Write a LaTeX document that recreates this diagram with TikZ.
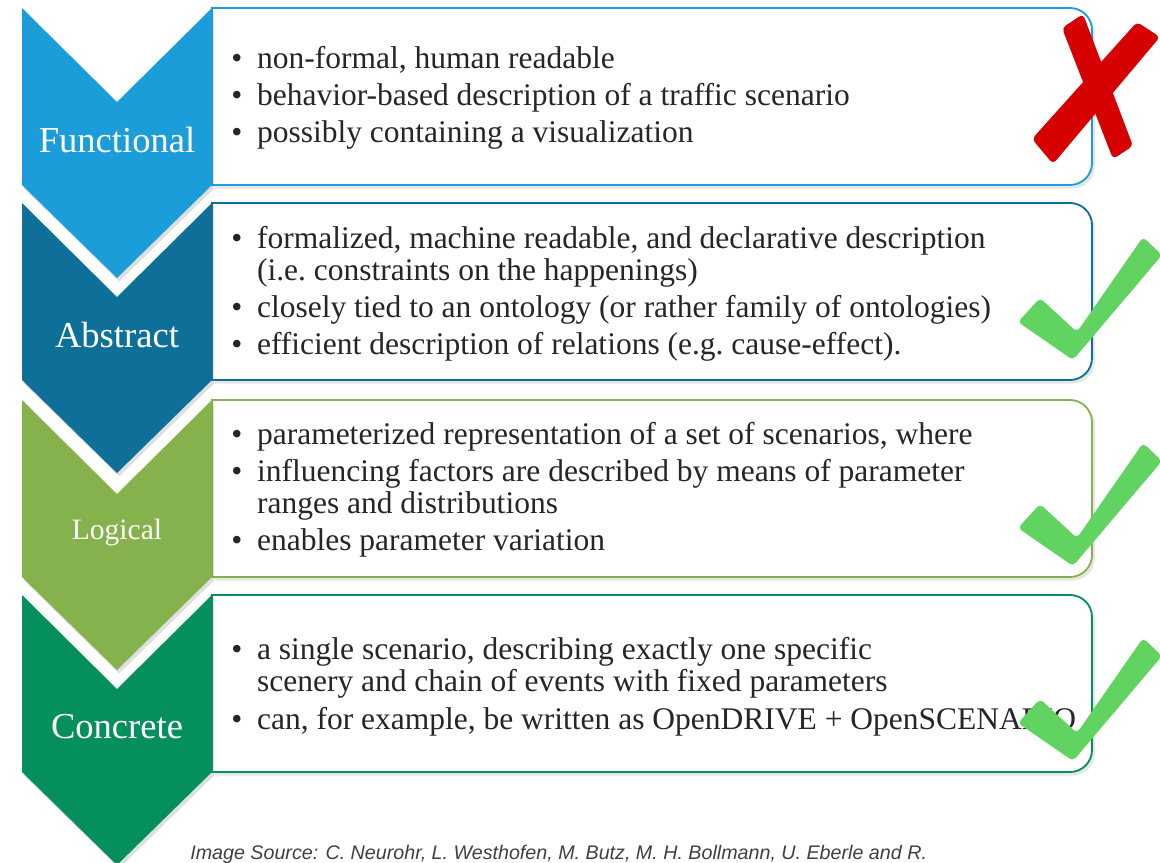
\documentclass[tikz,border=0pt]{standalone}
\usepackage{fontspec}
\setmainfont{Liberation Serif}
\newfontfamily\capfont{Liberation Sans}
\usetikzlibrary{shadows}
\definecolor{cfun}{RGB}{27,157,217}
\definecolor{cabs}{RGB}{14,112,153}
\definecolor{clog}{RGB}{134,178,78}
\definecolor{ccon}{RGB}{4,143,92}
\definecolor{okgreen}{RGB}{96,211,96}
\definecolor{nored}{RGB}{214,0,0}

\begin{document}
\begin{tikzpicture}[x=0.025cm, y=0.025cm,
    chev/.style={fill=#1, drop shadow={opacity=0.25, shadow xshift=1.5pt, shadow yshift=-2.5pt}},
    sbox/.style={draw=#1, fill=white, line width=1.3pt,
                 drop shadow={opacity=0.2, shadow xshift=2pt, shadow yshift=-2.5pt}},
    slab/.style={text=white, font=\fontsize{#1}{#1}\selectfont},
    stxt/.style={anchor=west, inner sep=0pt, font=\fontsize{22.4}{22.8}\selectfont, text=black!85},
    okmark/.style={fill=okgreen, rounded corners=3},
    nomark/.style={fill=nored, rounded corners=3}
  ]
    \useasboundingbox (0,0) rectangle (1160,-863);
    \clip (0,0) rectangle (1160,-863);
    \foreach \T/\col/\lab/\fs [count=\i] in {8/cfun/Functional/26, 203/cabs/Abstract/26,
                                             400/clog/Logical/21, 595/ccon/Concrete/26} {
      \draw[sbox=\col] (212,-\T) -- (1070,-\T) arc[start angle=90, end angle=0, radius=22]
        -- ++(0,-133) arc[start angle=0, end angle=-90, radius=22] -- (212,-\T-177) -- cycle;
      \fill[chev=\col] (22,-\T) -- (117,-\T-94) -- (212,-\T) -- (212,-\T-177)
        -- (117,-\T-270) -- (22,-\T-177) -- cycle;
      \node[slab=\fs] (lab\i) at (117,-\T-132) {\lab};
    }
    \node[stxt] (txt1) at (231,-99) {\begin{tabular}{@{}l@{\hspace{10.5pt}}l@{}}
      \textbullet & non-formal, human readable\\[3.6pt]
      \textbullet & behavior-based description of a traffic scenario\\[3.6pt]
      \textbullet & possibly containing a visualization
    \end{tabular}};
    \node[stxt] (txt2) at (231,-295) {\begin{tabular}{@{}l@{\hspace{10.5pt}}l@{}}
      \textbullet & formalized, machine readable, and declarative description\\
                  & (i.e.\ constraints on the happenings)\\[3.6pt]
      \textbullet & closely tied to an ontology (or rather family of ontologies)\\[3.6pt]
      \textbullet & efficient description of relations (e.g.\ cause-effect).
    \end{tabular}};
    \node[stxt] (txt3) at (231,-491) {\begin{tabular}{@{}l@{\hspace{10.5pt}}l@{}}
      \textbullet & parameterized representation of a set of scenarios, where\\[3.6pt]
      \textbullet & influencing factors are described by means of parameter\\
                  & ranges and distributions\\[3.6pt]
      \textbullet & enables parameter variation
    \end{tabular}};
    \node[stxt] (txt4) at (231,-688) {\begin{tabular}{@{}l@{\hspace{10.5pt}}l@{}}
      \textbullet & a single scenario, describing exactly one specific\\
                  & scenery and chain of events with fixed parameters\\[3.6pt]
      \textbullet & can, for example, be written as OpenDRIVE + OpenSCENARIO
    \end{tabular}};
    \fill[nomark] (1062,-28) -- (1083,-14) -- (1133,-146) -- (1113,-159) -- cycle;
    \fill[nomark] (1137,-22) -- (1160,-37) -- (1053,-164) -- (1032,-139) -- cycle;
    \foreach \dy in {0,206,401}
      \fill[okmark, shift={(0,-\dy)}] (1018,-322) -- (1040,-298) -- (1077,-332) -- (1143,-237)
        -- (1162,-255) -- (1073,-360) -- cycle;
    \node[anchor=base west, inner sep=0pt, text=black!75,
          font=\capfont\itshape\fontsize{14}{16}\selectfont] (src) at (190,-859)
      {Image Source: C. Neurohr, L. Westhofen, M. Butz, M. H. Bollmann, U. Eberle and R.};
  \end{tikzpicture}
\end{document}
